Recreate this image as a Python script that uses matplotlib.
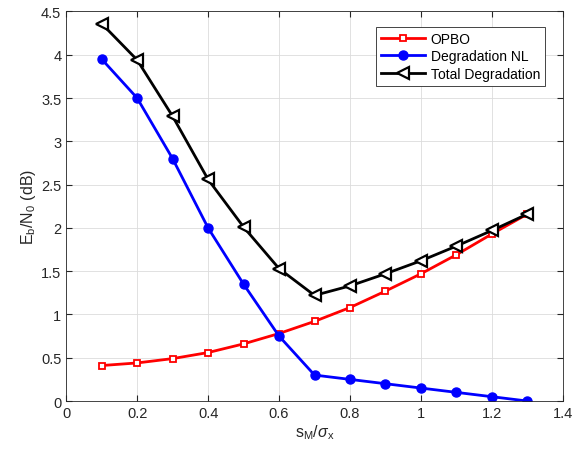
import numpy as np
import matplotlib
matplotlib.use('Agg')
import matplotlib.pyplot as plt

plt.rcParams['font.family'] = ['Liberation Sans', 'DejaVu Sans']
plt.rcParams['mathtext.fontset'] = 'custom'
plt.rcParams['mathtext.rm'] = 'Liberation Sans'
plt.rcParams['mathtext.it'] = 'Liberation Sans:italic'

s_ratio = [0.1, 0.2, 0.3, 0.4, 0.5, 0.6, 0.7, 0.8, 0.9, 1.0, 1.1, 1.2, 1.3]
opbo = [0.41, 0.44, 0.49, 0.56, 0.66, 0.78, 0.92, 1.08, 1.27, 1.47, 1.69, 1.93, 2.16]
degr_nl = [3.95, 3.50, 2.80, 2.00, 1.35, 0.75, 0.30, 0.25, 0.20, 0.15, 0.10, 0.05, 0.00]
total = [4.36, 3.94, 3.29, 2.56, 2.01, 1.53, 1.22, 1.33, 1.47, 1.62, 1.79, 1.97, 2.16]

fig = plt.figure(figsize=(5.75, 4.6), dpi=100)
ax = fig.add_axes([0.115, 0.126, 0.864, 0.847])

ax.plot(s_ratio, opbo, '-s', color='red', lw=2, ms=5, mfc='white', mec='red', mew=1.3, label='OPBO')
ax.plot(s_ratio, degr_nl, '-o', color='blue', lw=2, ms=6.5, label='Degradation NL')
ax.plot(s_ratio, total, '-<', color='black', lw=2, ms=8.5, mfc='white', mec='black', mew=1.6, label='Total Degradation')

ax.set_xlim(0, 1.4)
ax.set_ylim(0, 4.5)
ax.set_xticks(np.arange(0, 1.41, 0.2))
ax.set_xticklabels(['0', '0.2', '0.4', '0.6', '0.8', '1', '1.2', '1.4'])
ax.set_yticks(np.arange(0, 4.51, 0.5))
ax.set_yticklabels(['0', '0.5', '1', '1.5', '2', '2.5', '3', '3.5', '4', '4.5'])
ax.grid(True, color='#dcdcdc', lw=0.6)
ax.set_axisbelow(True)
ax.tick_params(direction='in', labelsize=10.5, colors='#262626', length=4, top=True, right=True)
for sp in ax.spines.values():
    sp.set_color('#262626')
    sp.set_linewidth(0.6)

ax.set_xlabel(r'$\mathrm{s_M}/\sigma_\mathrm{x}$', fontsize=11.5, color='#262626', labelpad=2)
ax.set_ylabel(r'$\mathrm{E_b/N_0}$ (dB)', fontsize=11.5, color='#262626', labelpad=2)

leg = ax.legend(loc='upper right', fontsize=10, fancybox=False, framealpha=1,
                edgecolor='#262626', handlelength=3.2, borderpad=0.35,
                labelspacing=0.25, handletextpad=0.4, bbox_to_anchor=(0.978, 0.978))
leg.get_frame().set_linewidth(0.6)

fig.savefig('out.png', dpi=100)
